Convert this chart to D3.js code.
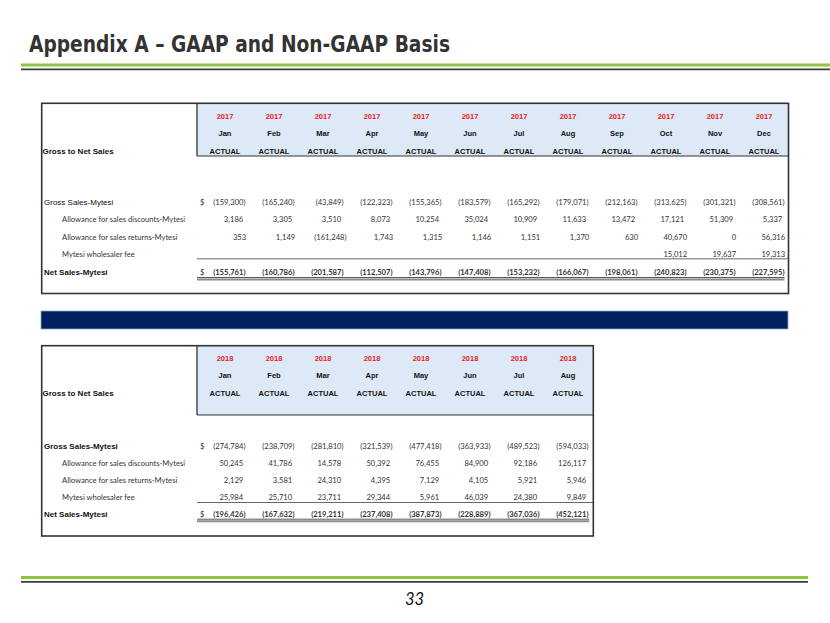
<!DOCTYPE html>
<html><head><meta charset="utf-8">
<script src="https://cdn.jsdelivr.net/npm/d3@7"></script>
<style>body{margin:0;background:#fff} svg{display:block}</style>
</head><body>
<svg id="c" width="830" height="623"></svg>
<script>
// ---------- DATA ----------
const titleText = "Appendix A – GAAP and Non-GAAP Basis";
const pageNumber = "33";
const cornerLabel = "Gross to Net Sales";
const statusLabel = "ACTUAL";
const rowNames = ["Gross Sales-Mytesi", "Allowance for sales discounts-Mytesi", "Allowance for sales returns-Mytesi", "Mytesi wholesaler fee", "Net Sales-Mytesi"];

const year2017 = "2017";
const months2017 = ["Jan","Feb","Mar","Apr","May","Jun","Jul","Aug","Sep","Oct","Nov","Dec"];
const gross2017 = [-159300, -165240, -43849, -122323, -155365, -183579, -165292, -179071, -212163, -313625, -301321, -308561];
const discounts2017 = [3186, 3305, 3510, 8073, 10254, 35024, 10909, 11633, 13472, 17121, 51309, 5337];
const returns2017 = [353, 1149, -161248, 1743, 1315, 1146, 1151, 1370, 630, 40670, 0, 56316];
const fee2017 = [null, null, null, null, null, null, null, null, null, 15012, 19637, 19313];
const net2017 = [-155761, -160786, -201587, -112507, -143796, -147408, -153232, -166067, -198061, -240823, -230375, -227595];

const year2018 = "2018";
const months2018 = ["Jan","Feb","Mar","Apr","May","Jun","Jul","Aug"];
const gross2018 = [-274784, -238709, -281810, -321539, -477418, -363933, -489523, -594033];
const discounts2018 = [50245, 41786, 14578, 50392, 76455, 84900, 92186, 126117];
const returns2018 = [2129, 3581, 24310, 4395, 7129, 4105, 5921, 5946];
const fee2018 = [25984, 25710, 23711, 29344, 5961, 46039, 24380, 9849];
const net2018 = [-196426, -167632, -219211, -237408, -387873, -228889, -367036, -452121];

// ---------- DRAW ----------
const svg = d3.select("#c");
svg.append("rect").attr("width", 830).attr("height", 623).attr("fill", "#fff");

const ARIAL = "'Liberation Sans', Arial, sans-serif";
const CAL = "Lato, 'Open Sans', sans-serif";
const fmt = d3.format(",");
const acct = v => v < 0 ? "(" + fmt(-v) + ")" : fmt(v);

// Title
const title = svg.append("text")
  .attr("x", 29).attr("y", 52)
  .attr("font-family", "'DejaVu Sans Condensed', 'DejaVu Sans', Verdana, sans-serif")
  .attr("font-weight", "bold").attr("font-size", 23)
  .attr("fill", "#333").text(titleText);
const tw = title.node().getComputedTextLength();
if (Math.abs(tw - 421) > 3) title.attr("textLength", 421).attr("lengthAdjust", "spacingAndGlyphs");

function ruleLines(y, x0, x1) {
  svg.append("line").attr("x1", x0).attr("x2", x1).attr("y1", y).attr("y2", y)
    .attr("stroke", "#8cc63f").attr("stroke-width", 3);
  svg.append("line").attr("x1", x0).attr("x2", x1).attr("y1", y + 4.3).attr("y2", y + 4.3)
    .attr("stroke", "#3c3c3c").attr("stroke-width", 1.8);
}
ruleLines(65, 21, 830);
ruleLines(577.5, 21, 808);

// page number
svg.append("text").attr("x", 414.5).attr("y", 605).attr("text-anchor", "middle")
  .attr("font-family", CAL).attr("font-style", "italic").attr("font-size", 16.5)
  .attr("fill", "#111").text(pageNumber);

// blue bar
svg.append("rect").attr("x", 41).attr("y", 311).attr("width", 747).attr("height", 18)
  .attr("fill", "#002060").attr("stroke", "#8ea5c8").attr("stroke-width", 0.8);

function drawTable(cfg) {
  const g = svg.append("g");
  const { box, headBottom, headLeft, year, months, series, colRange, rowRange, grossBold, shifts, feeLineDy } = cfg;
  const x = d3.scalePoint().domain(months).range(colRange);
  const yH = d3.scalePoint().domain(["year", "month", "status"]).range(cfg.headRange);
  const y = d3.scalePoint().domain(rowNames).range(rowRange);

  g.append("rect").attr("x", box[0]).attr("y", box[1]).attr("width", box[2] - box[0]).attr("height", box[3] - box[1])
    .attr("fill", "#fff");
  g.append("rect").attr("x", headLeft).attr("y", box[1]).attr("width", box[2] - headLeft).attr("height", headBottom - box[1])
    .attr("fill", "#dde9f6");
  g.append("line").attr("x1", headLeft).attr("x2", headLeft).attr("y1", box[1]).attr("y2", headBottom)
    .attr("stroke", "#333").attr("stroke-width", 1.3);
  g.append("line").attr("x1", headLeft).attr("x2", box[2]).attr("y1", headBottom).attr("y2", headBottom)
    .attr("stroke", "#333").attr("stroke-width", 1.1);
  g.append("rect").attr("x", box[0]).attr("y", box[1]).attr("width", box[2] - box[0]).attr("height", box[3] - box[1])
    .attr("fill", "none").attr("stroke", "#333").attr("stroke-width", 1.6);

  // header texts
  const hdr = [
    { key: "year", text: () => year, color: "#ee1c25" },
    { key: "month", text: m => m, color: "#111" },
    { key: "status", text: () => statusLabel, color: "#111" }
  ];
  hdr.forEach(h => {
    g.selectAll(null).data(months).join("text")
      .attr("x", d => x(d)).attr("y", yH(h.key) + 2.8).attr("text-anchor", "middle")
      .attr("font-family", ARIAL).attr("font-weight", "bold").attr("font-size", 7.5)
      .attr("fill", h.color).text(d => h.text(d));
  });
  g.append("text").attr("x", box[0] + 0.8).attr("y", yH("status") + 2.9)
    .attr("font-family", ARIAL).attr("font-weight", "bold").attr("font-size", 8)
    .attr("fill", "#111").text(cornerLabel);

  // row labels
  rowNames.forEach((name, i) => {
    const isMain = i === 0 || i === 4;
    g.append("text").attr("x", isMain ? 44 : 62).attr("y", y(name) + 2.8)
      .attr("font-family", isMain ? ARIAL : CAL)
      .attr("font-weight", (i === 4 || (i === 0 && grossBold)) ? "bold" : "normal")
      .attr("font-size", isMain ? 8 : 7.6)
      .attr("fill", isMain ? "#111" : "#333").text(name);
  });

  // dollar signs
  [0, 4].forEach(i => {
    g.append("text").attr("x", 200).attr("y", y(rowNames[i]) + 2.8)
      .attr("font-family", CAL).attr("font-size", 7.6).attr("fill", "#333").text("$");
  });

  // values
  series.forEach((vals, i) => {
    const rows = vals.map((v, j) => ({ v, m: months[j] })).filter(d => d.v !== null);
    g.selectAll(null).data(rows).join("text")
      .attr("x", d => x(d.m) + 20.5 + shifts[i] - (d.v >= 0 ? 2.3 : 0))
      .attr("y", y(rowNames[i]) + 2.8)
      .attr("text-anchor", "end")
      .attr("font-family", CAL).attr("font-size", 7.6)
      .attr("font-weight", i === 4 ? "bold" : "normal")
      .attr("fill", "#333").text(d => acct(d.v));
  });

  // underline above net row
  const yFee = y(rowNames[3]) + feeLineDy;
  g.append("line").attr("x1", headLeft).attr("x2", box[2]).attr("y1", yFee).attr("y2", yFee)
    .attr("stroke", "#555").attr("stroke-width", 0.9);
  const yNet = y(rowNames[4]);
  g.append("line").attr("x1", headLeft).attr("x2", box[2] - 4).attr("y1", yNet + 5.2).attr("y2", yNet + 5.2)
    .attr("stroke", "#444").attr("stroke-width", 0.9);
  g.append("line").attr("x1", headLeft).attr("x2", box[2] - 4).attr("y1", yNet + 7.2).attr("y2", yNet + 7.2)
    .attr("stroke", "#8a8a8a").attr("stroke-width", 2);
}

drawTable({
  box: [41.7, 103.3, 788.5, 293.5],
  headLeft: 197, headBottom: 156,
  headRange: [116, 151],
  year: year2017, months: months2017,
  series: [gross2017, discounts2017, returns2017, fee2017, net2017],
  colRange: [225, 764],
  rowRange: [201.7, 272.3],
  grossBold: false,
  shifts: [0, 0, 3, 3, 0],
  feeLineDy: 4.2
});

drawTable({
  box: [41.7, 345.7, 593.3, 536],
  headLeft: 197, headBottom: 415,
  headRange: [358.3, 392.7],
  year: year2018, months: months2018,
  series: [gross2018, discounts2018, returns2018, fee2018, net2018],
  colRange: [225, 568],
  rowRange: [445.7, 514],
  grossBold: true,
  shifts: [0, 0, 0, 0, 0],
  feeLineDy: 5.6
});
</script>
</body></html>
